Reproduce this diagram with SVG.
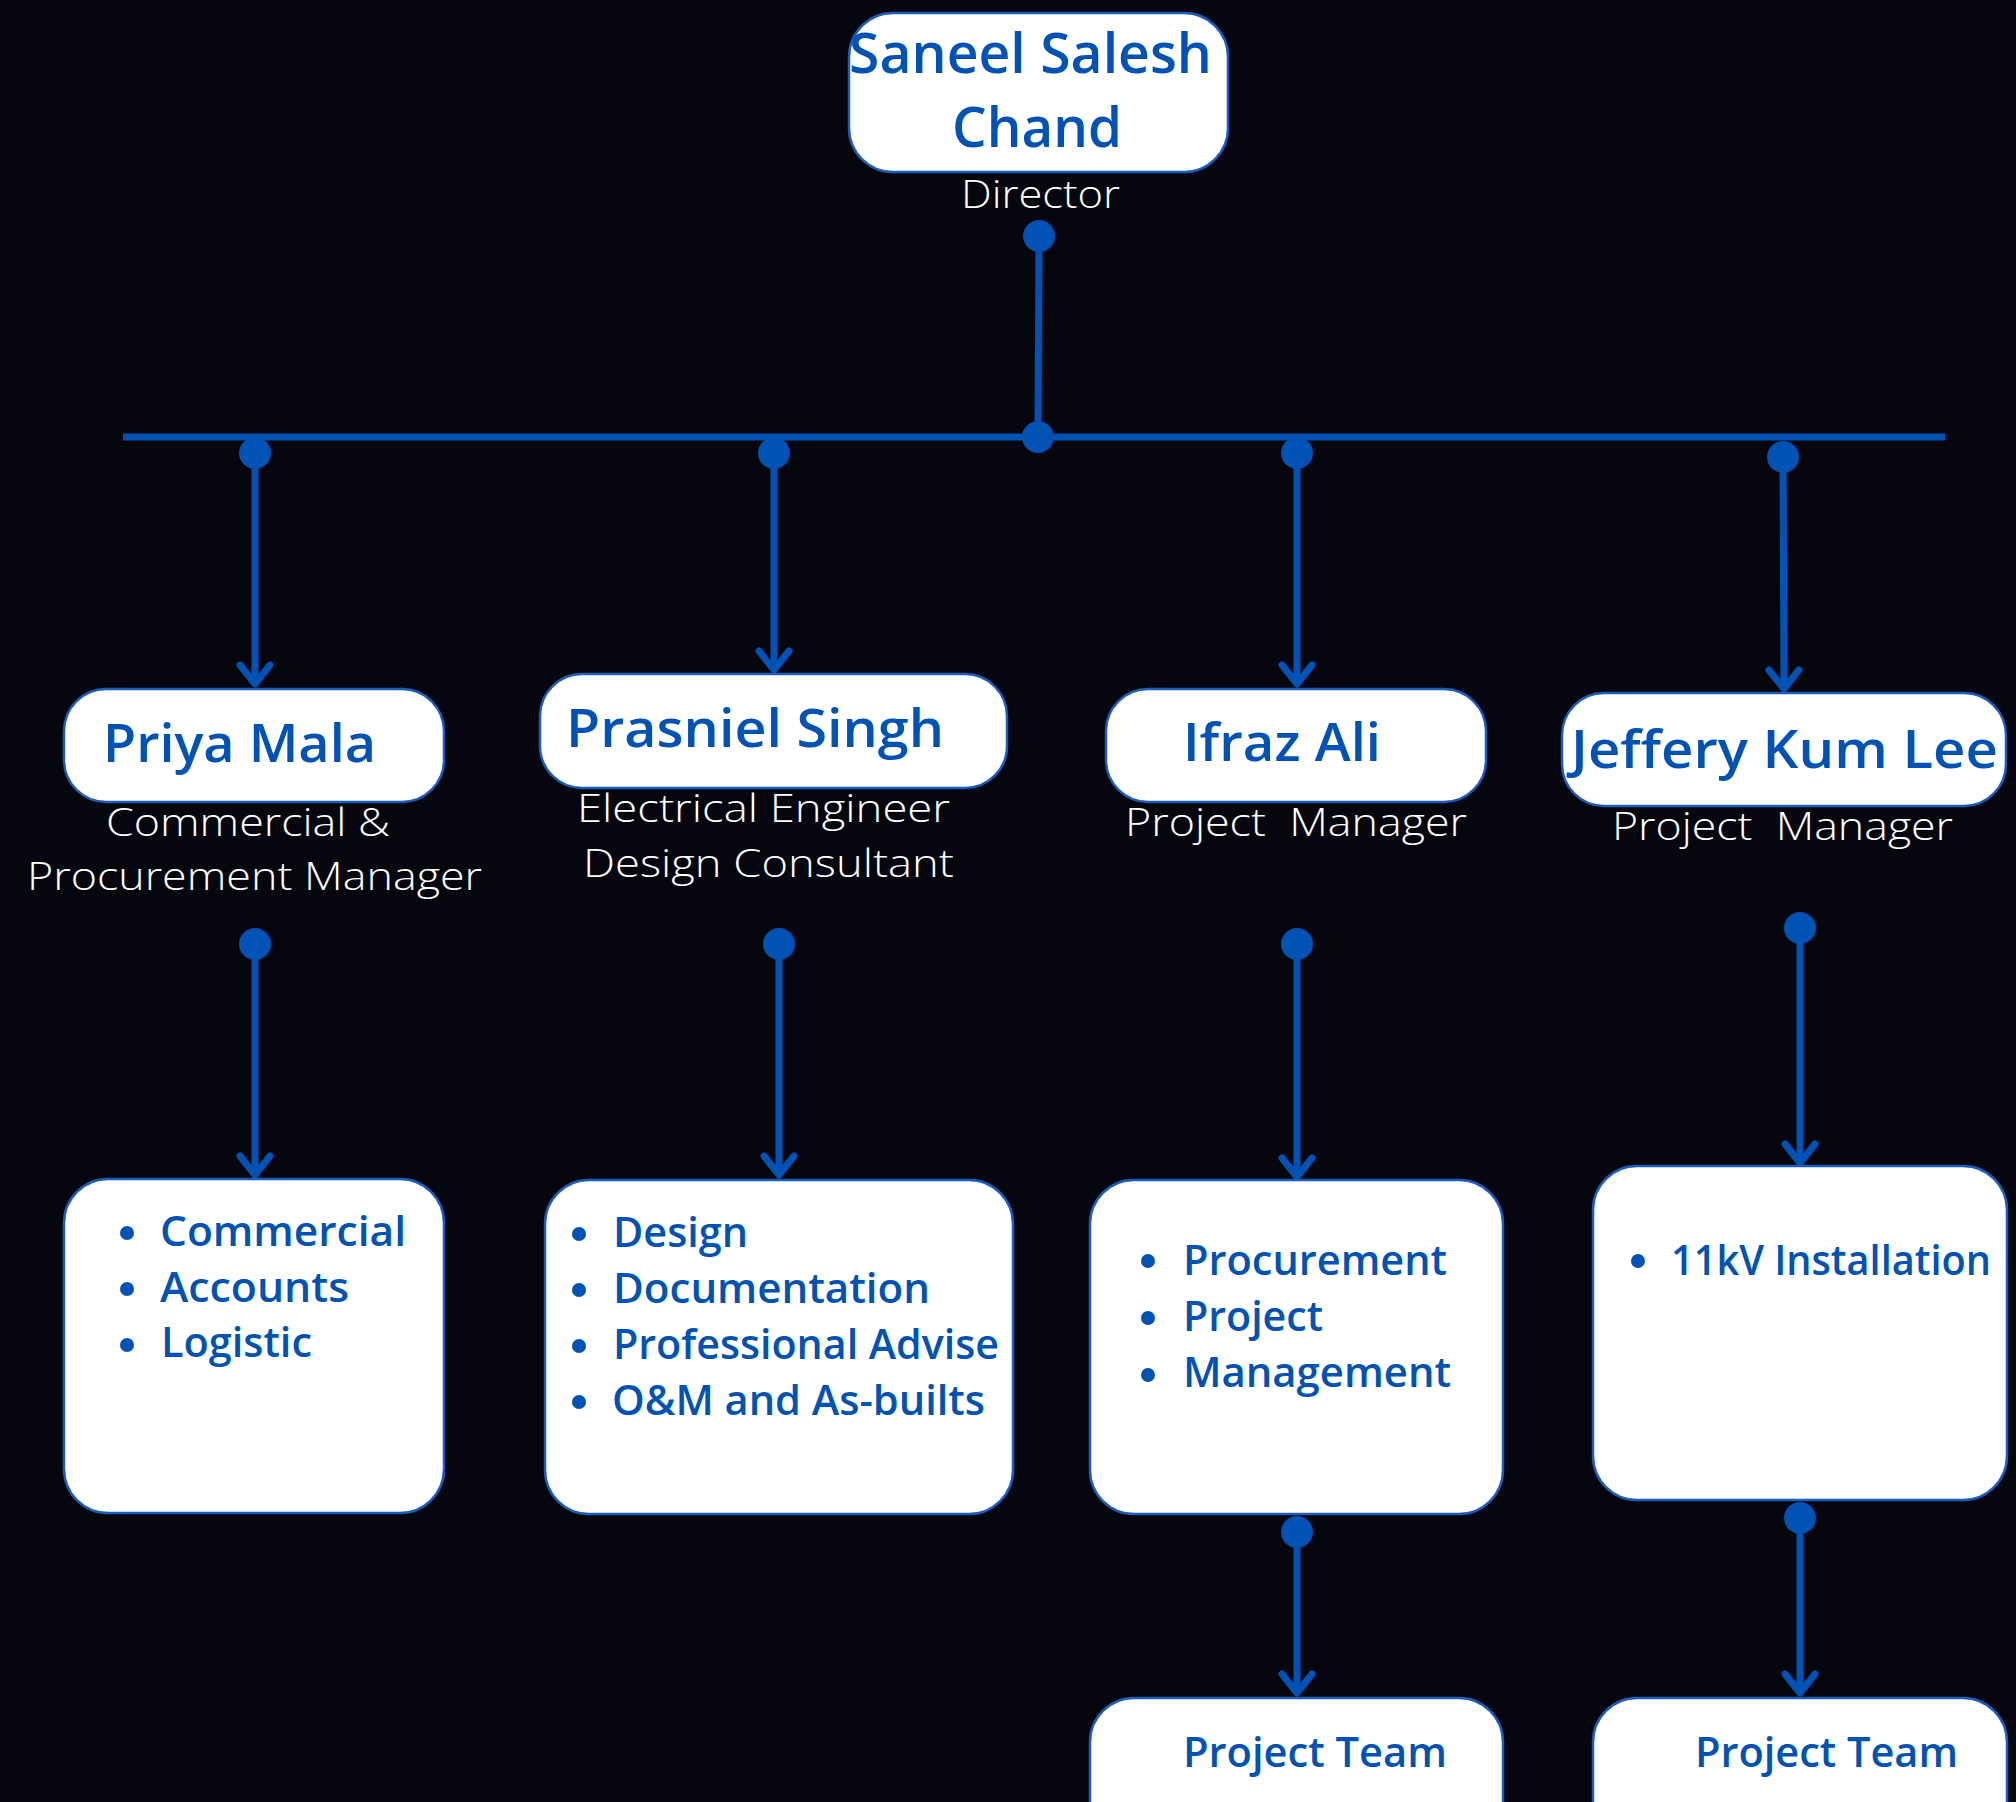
<svg xmlns="http://www.w3.org/2000/svg" width="2016" height="1802" viewBox="0 0 2016 1802">
<defs>
<style>
.bg{fill:#06060f}
.box{fill:#ffffff;stroke:#1c5cbc;stroke-width:2.5}
.name{font-family:"Open Sans","Liberation Sans",sans-serif;font-weight:600;fill:#0052b4}
.role{font-family:"Open Sans","Liberation Sans",sans-serif;font-weight:300;fill:#ffffff;font-size:38px}
.item{font-family:"Open Sans","Liberation Sans",sans-serif;font-weight:600;fill:#0052b4;font-size:42px}
.bul{fill:#0052b4}
.ln{stroke:#0052b4;stroke-width:7;fill:none}
.dot{fill:#0052b4}
</style>
<marker id="ah" markerUnits="userSpaceOnUse" orient="auto" refX="0" refY="0" markerWidth="40" markerHeight="40" viewBox="-25 -20 30 40" overflow="visible">
<path d="M-19,-15 L0,0 L-19,15" fill="none" stroke="#0052b4" stroke-width="7" stroke-linecap="round" stroke-linejoin="round"/>
</marker>
</defs>
<rect class="bg" x="0" y="0" width="2016" height="1802"/>

<g id="connectors">
<line class="ln" x1="123" y1="437" x2="1945" y2="437"/>
<line class="ln" x1="1039" y1="236" x2="1038" y2="437"/>
<circle class="dot" cx="1039" cy="236" r="16"/>
<circle class="dot" cx="1038" cy="437" r="16"/>

<line class="ln" x1="255" y1="453" x2="255" y2="684" marker-end="url(#ah)"/>
<circle class="dot" cx="255" cy="453" r="16"/>
<line class="ln" x1="774" y1="453" x2="774" y2="670" marker-end="url(#ah)"/>
<circle class="dot" cx="774" cy="453" r="16"/>
<line class="ln" x1="1297" y1="453" x2="1297" y2="684" marker-end="url(#ah)"/>
<circle class="dot" cx="1297" cy="453" r="16"/>
<line class="ln" x1="1783" y1="457" x2="1784" y2="689" marker-end="url(#ah)"/>
<circle class="dot" cx="1783" cy="457" r="16"/>

<line class="ln" x1="255" y1="944" x2="255" y2="1175" marker-end="url(#ah)"/>
<circle class="dot" cx="255" cy="944" r="16"/>
<line class="ln" x1="779" y1="944" x2="779" y2="1175" marker-end="url(#ah)"/>
<circle class="dot" cx="779" cy="944" r="16"/>
<line class="ln" x1="1297" y1="944" x2="1297" y2="1177" marker-end="url(#ah)"/>
<circle class="dot" cx="1297" cy="944" r="16"/>
<line class="ln" x1="1800" y1="928" x2="1800" y2="1163" marker-end="url(#ah)"/>
<circle class="dot" cx="1800" cy="928" r="16"/>

<line class="ln" x1="1297" y1="1532" x2="1297" y2="1693" marker-end="url(#ah)"/>
<circle class="dot" cx="1297" cy="1532" r="16"/>
<line class="ln" x1="1800" y1="1518" x2="1800" y2="1693" marker-end="url(#ah)"/>
<circle class="dot" cx="1800" cy="1518" r="16"/>
</g>

<g id="director">
<rect class="box" x="849" y="13" width="379" height="159" rx="44"/>
<text class="name" x="849" y="73" font-size="56" textLength="363" lengthAdjust="spacingAndGlyphs">Saneel Salesh</text>
<text class="name" x="952" y="147" font-size="56" textLength="170" lengthAdjust="spacingAndGlyphs">Chand</text>
<text class="role" x="961" y="208" textLength="159" lengthAdjust="spacingAndGlyphs">Director</text>
</g>

<g id="priya">
<rect class="box" x="64" y="689" width="380" height="113" rx="42"/>
<text class="name" x="103" y="762" font-size="52" textLength="273" lengthAdjust="spacingAndGlyphs">Priya Mala</text>
<text class="role" x="106" y="836" textLength="284" lengthAdjust="spacingAndGlyphs">Commercial &amp;</text>
<text class="role" x="27" y="890" textLength="455" lengthAdjust="spacingAndGlyphs">Procurement Manager</text>
</g>

<g id="prasniel">
<rect class="box" x="540" y="674" width="467" height="114" rx="42"/>
<text class="name" x="566" y="747" font-size="52" textLength="378" lengthAdjust="spacingAndGlyphs">Prasniel Singh</text>
<text class="role" x="577" y="822" textLength="373" lengthAdjust="spacingAndGlyphs">Electrical Engineer</text>
<text class="role" x="583" y="877" textLength="371" lengthAdjust="spacingAndGlyphs">Design Consultant</text>
</g>

<g id="ifraz">
<rect class="box" x="1106" y="689" width="380" height="113" rx="42"/>
<text class="name" x="1183" y="761" font-size="52" textLength="198" lengthAdjust="spacingAndGlyphs">Ifraz Ali</text>
<text class="role" x="1125" y="836" xml:space="preserve" textLength="342" lengthAdjust="spacingAndGlyphs">Project  Manager</text>
</g>

<g id="jeffery">
<rect class="box" x="1562" y="693" width="444" height="113" rx="42"/>
<text class="name" x="1571" y="768" font-size="52" textLength="427" lengthAdjust="spacingAndGlyphs">Jeffery Kum Lee</text>
<text class="role" x="1612" y="840" xml:space="preserve" textLength="341" lengthAdjust="spacingAndGlyphs">Project  Manager</text>
</g>

<g id="priya-duties">
<rect class="box" x="64" y="1179" width="380" height="334" rx="44"/>
<circle class="bul" cx="127" cy="1233" r="7"/>
<circle class="bul" cx="127" cy="1289" r="7"/>
<circle class="bul" cx="127" cy="1345" r="7"/>
<text class="item" x="160" y="1246" textLength="246" lengthAdjust="spacingAndGlyphs">Commercial</text>
<text class="item" x="160" y="1302" textLength="189" lengthAdjust="spacingAndGlyphs">Accounts</text>
<text class="item" x="161" y="1357" textLength="151" lengthAdjust="spacingAndGlyphs">Logistic</text>
</g>

<g id="prasniel-duties">
<rect class="box" x="545" y="1180" width="468" height="334" rx="44"/>
<circle class="bul" cx="579" cy="1234" r="7"/>
<circle class="bul" cx="579" cy="1290" r="7"/>
<circle class="bul" cx="579" cy="1346" r="7"/>
<circle class="bul" cx="579" cy="1402" r="7"/>
<text class="item" x="613" y="1247" textLength="135" lengthAdjust="spacingAndGlyphs">Design</text>
<text class="item" x="613" y="1303" textLength="317" lengthAdjust="spacingAndGlyphs">Documentation</text>
<text class="item" x="613" y="1359" textLength="386" lengthAdjust="spacingAndGlyphs">Professional Advise</text>
<text class="item" x="612" y="1415" textLength="373" lengthAdjust="spacingAndGlyphs">O&amp;M and As-builts</text>
</g>

<g id="ifraz-duties">
<rect class="box" x="1090" y="1180" width="413" height="334" rx="44"/>
<circle class="bul" cx="1148" cy="1261" r="7"/>
<circle class="bul" cx="1148" cy="1318" r="7"/>
<circle class="bul" cx="1148" cy="1375" r="7"/>
<text class="item" x="1183" y="1275" textLength="264" lengthAdjust="spacingAndGlyphs">Procurement</text>
<text class="item" x="1183" y="1331" textLength="140" lengthAdjust="spacingAndGlyphs">Project</text>
<text class="item" x="1183" y="1387" textLength="268" lengthAdjust="spacingAndGlyphs">Management</text>
</g>

<g id="jeffery-duties">
<rect class="box" x="1593" y="1166" width="414" height="334" rx="44"/>
<circle class="bul" cx="1638" cy="1261" r="7"/>
<text class="item" x="1671" y="1275" textLength="320" lengthAdjust="spacingAndGlyphs">11kV Installation</text>
</g>

<g id="ifraz-team">
<rect class="box" x="1090" y="1698" width="413" height="170" rx="44"/>
<text class="item" x="1183" y="1767" textLength="264" lengthAdjust="spacingAndGlyphs">Project Team</text>
</g>

<g id="jeffery-team">
<rect class="box" x="1593" y="1698" width="414" height="170" rx="44"/>
<text class="item" x="1695" y="1767" textLength="263" lengthAdjust="spacingAndGlyphs">Project Team</text>
</g>
</svg>
